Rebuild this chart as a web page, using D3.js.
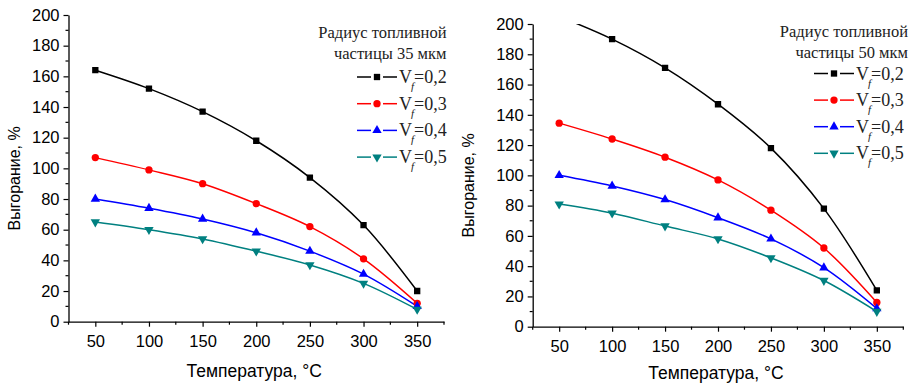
<!DOCTYPE html>
<html>
<head>
<meta charset="utf-8">
<script src="https://cdn.jsdelivr.net/npm/d3@7"></script>
<style>
  html, body { margin: 0; padding: 0; background: #fff; }
  svg { display: block; }
</style>
</head>
<body>
<svg id="chart" width="915" height="384"></svg>
<script>
// Temperature grid shared by both panels
const temperatures = [50, 100, 150, 200, 250, 300, 350];
const xTickValues = [50, 100, 150, 200, 250, 300, 350];
const yTickValues = [0, 20, 40, 60, 80, 100, 120, 140, 160, 180, 200];

// Fuel volume fractions and their legend labels
const fractionLabels = ["0,2", "0,3", "0,4", "0,5"];
const seriesColors = ["#000000", "#ff0000", "#0000ff", "#008080"];
const seriesSymbols = ["square", "circle", "triangleUp", "triangleDown"];

// Burnup, %, fuel particle radius 35 µm
const burnup35Vf02 = [164, 152, 137, 118, 94, 63, 20];
const burnup35Vf03 = [107, 99, 90, 77, 62, 41, 12];
const burnup35Vf04 = [80, 74, 67, 58, 46, 31, 10];
const burnup35Vf05 = [65, 60, 54, 46, 37, 25, 8];

// Burnup, %, fuel particle radius 50 µm
const burnup50Vf02 = [205, 190, 171, 147, 118, 78, 24];
const burnup50Vf03 = [134.5, 124, 112, 97, 77, 52, 16];
const burnup50Vf04 = [100, 93, 84, 72, 58, 39, 12];
const burnup50Vf05 = [81, 75, 66.5, 58, 45.5, 30.5, 10];

const titleLine1 = "Радиус топливной";
const titles2 = ["частицы 35 мкм", "частицы 50 мкм"];
const yAxisTitle = "Выгорание, %";
const xAxisTitles = ["Температура, °C", "Температура, °C"];

const svg = d3.select("#chart");

const panels = [
  {
    id: "p35",
    series: [burnup35Vf02, burnup35Vf03, burnup35Vf04, burnup35Vf05],
    title2: titles2[0],
    xTitle: xAxisTitles[0],
    left: 68.5, right: 444, top: 15, bottom: 321.7,
    yTitleX: 20, xTitleY: 377,
    legendRight: 446.5, legendTitleY: 38, legendFirstY: 77, legendStep: 26.7,
    legendLineX: 357, legendTextX: 399
  },
  {
    id: "p50",
    series: [burnup50Vf02, burnup50Vf03, burnup50Vf04, burnup50Vf05],
    title2: titles2[1],
    xTitle: xAxisTitles[1],
    left: 532.7, right: 903.3, top: 24, bottom: 326.7,
    yTitleX: 474, xTitleY: 379,
    legendRight: 908, legendTitleY: 37, legendFirstY: 73.5, legendStep: 26.6,
    legendLineX: 814, legendTextX: 856
  }
];

function symbolPath(kind) {
  const map = {
    square: d3.symbol(d3.symbolSquare, 40),
    circle: d3.symbol(d3.symbolCircle, 42),
    triangleUp: d3.symbol(d3.symbolTriangle, 38),
    triangleDown: d3.symbol(d3.symbolTriangle, 38)
  };
  return map[kind]();
}

function drawMarker(g, kind, color, x, y) {
  g.append("path")
    .attr("d", symbolPath(kind))
    .attr("fill", color)
    .attr("transform", `translate(${x},${y})` + (kind === "triangleDown" ? " rotate(180)" : ""));
}

panels.forEach(p => {
  const x = d3.scaleLinear().domain([25, 375]).range([p.left, p.right]);
  const y = d3.scaleLinear().domain([0, 200]).range([p.bottom, p.top]);

  const g = svg.append("g");

  // Clip region for the data curves
  g.append("clipPath").attr("id", "clip-" + p.id)
    .append("rect")
    .attr("x", p.left).attr("y", p.top)
    .attr("width", p.right - p.left).attr("height", p.bottom - p.top);

  // Minor ticks
  const xMinor = d3.range(25, 376, 25).filter(v => !xTickValues.includes(v));
  const yMinor = d3.range(10, 200, 20);

  const axisStyle = sel => {
    sel.selectAll("path").attr("stroke", "#000").attr("stroke-width", 1.3);
    sel.selectAll("line").attr("stroke", "#000").attr("stroke-width", 1.2);
    sel.selectAll("text").attr("fill", "#000")
      .style("font-family", "'Liberation Sans', Arial, sans-serif")
      .style("font-size", "16.5px");
  };

  const xAxis = g.append("g").attr("transform", `translate(0,${p.bottom})`)
    .call(d3.axisBottom(x).tickValues(xTickValues).tickSize(5).tickSizeOuter(0).tickPadding(5));
  xAxis.call(axisStyle);
  xAxis.selectAll("text").attr("dy", "0.95em");
  xAxis.selectAll(".minor").data(xMinor).enter().append("line")
    .attr("x1", d => x(d)).attr("x2", d => x(d)).attr("y1", 0).attr("y2", 3)
    .attr("stroke", "#000").attr("stroke-width", 1.2);

  const yAxis = g.append("g").attr("transform", `translate(${p.left},0)`)
    .call(d3.axisLeft(y).tickValues(yTickValues).tickSize(5).tickSizeOuter(0).tickPadding(4));
  yAxis.call(axisStyle);
  yAxis.selectAll(".minor").data(yMinor).enter().append("line")
    .attr("x1", 0).attr("x2", -3).attr("y1", d => y(d)).attr("y2", d => y(d))
    .attr("stroke", "#000").attr("stroke-width", 1.2);

  // Axis titles
  g.append("text")
    .attr("transform", `translate(${p.yTitleX},${(p.top + p.bottom) / 2 + 10}) rotate(-90)`)
    .attr("text-anchor", "middle")
    .style("font-family", "'Liberation Sans', Arial, sans-serif")
    .style("font-size", "16px")
    .text(yAxisTitle);

  g.append("text")
    .attr("x", (p.left + p.right) / 2 - 2)
    .attr("y", p.xTitleY)
    .attr("text-anchor", "middle")
    .style("font-family", "'Liberation Sans', Arial, sans-serif")
    .style("font-size", "17.5px")
    .text(p.xTitle);

  // Curves and markers
  const line = d3.line()
    .x((d, i) => x(temperatures[i]))
    .y(d => y(d))
    .curve(d3.curveCatmullRom.alpha(0.5));

  const plot = g.append("g").attr("clip-path", `url(#clip-${p.id})`);
  p.series.forEach((vals, si) => {
    plot.append("path")
      .attr("d", line(vals))
      .attr("fill", "none")
      .attr("stroke", seriesColors[si])
      .attr("stroke-width", 1.5);
  });
  p.series.forEach((vals, si) => {
    vals.forEach((v, i) => {
      drawMarker(plot, seriesSymbols[si], seriesColors[si], x(temperatures[i]), y(v));
    });
  });

  // Legend
  const lg = g.append("g").style("font-family", "'Liberation Serif', 'Times New Roman', serif");
  lg.append("text")
    .attr("x", p.legendRight).attr("y", p.legendTitleY)
    .attr("text-anchor", "end")
    .style("font-size", "16.5px")
    .attr("fill", "#222")
    .text(titleLine1);
  lg.append("text")
    .attr("x", p.legendRight).attr("y", p.legendTitleY + 21)
    .attr("text-anchor", "end")
    .style("font-size", "16.5px")
    .attr("fill", "#222")
    .text(p.title2);

  fractionLabels.forEach((lab, si) => {
    const cy = p.legendFirstY + si * p.legendStep;
    const x0 = p.legendLineX, x1 = x0 + 40, xm = x0 + 20;
    lg.append("line").attr("x1", x0).attr("x2", xm - 6).attr("y1", cy).attr("y2", cy)
      .attr("stroke", seriesColors[si]).attr("stroke-width", 1.5);
    lg.append("line").attr("x1", xm + 6).attr("x2", x1).attr("y1", cy).attr("y2", cy)
      .attr("stroke", seriesColors[si]).attr("stroke-width", 1.5);
    drawMarker(lg, seriesSymbols[si], seriesColors[si], xm, cy);

    const t = lg.append("text")
      .attr("x", p.legendTextX).attr("y", cy + 6)
      .style("font-size", "18px")
      .attr("fill", "#222");
    t.append("tspan").text("V");
    t.append("tspan").attr("dy", 7).attr("dx", -1)
      .style("font-size", "11px").style("font-style", "italic").text("f");
    t.append("tspan").attr("dy", -7).text("=" + lab);
  });
});
</script>
</body>
</html>
